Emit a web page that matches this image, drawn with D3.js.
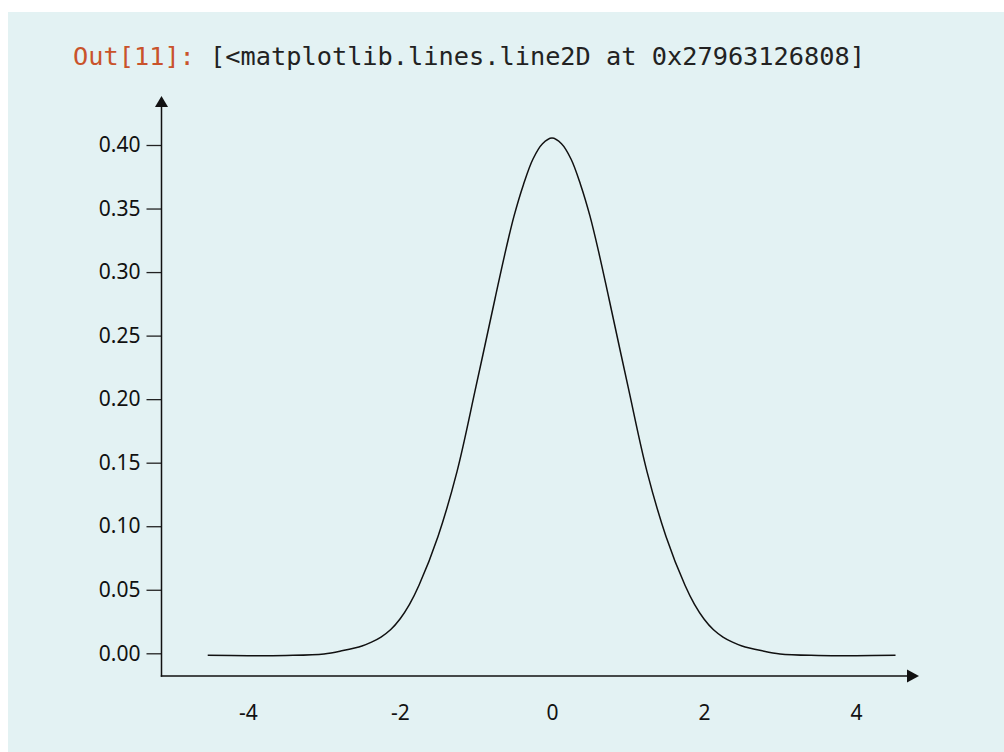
<!DOCTYPE html>
<html>
<head>
<meta charset="utf-8">
<script src="https://cdn.jsdelivr.net/npm/d3@7"></script>
<style>
  html, body { margin: 0; padding: 0; background: #ffffff; }
  svg { display: block; }
</style>
</head>
<body>
<script>
"use strict";

const WIDTH = 1004
const HEIGHT = 752

// curve (tails sit a hair under zero)
const curve_x = [-4.53, -4.0, -3.5, -3.0, -2.75, -2.5, -2.375, -2.25, -2.125, -2.0, -1.875, -1.75, -1.5,
    -1.25, -1.0, -0.75, -0.625, -0.5, -0.375, -0.25, -0.125, 0,
    0.125, 0.25, 0.375, 0.5, 0.625, 0.75, 1.0,
    1.25, 1.5, 1.75, 1.875, 2.0, 2.125, 2.25, 2.375, 2.5, 2.75, 3.0, 3.5, 4.0, 4.52]
const curve_y = [-0.0016, -0.0019, -0.0017, -0.0005, 0.0022, 0.0058, 0.0088, 0.0128, 0.0185, 0.027, 0.0385, 0.0535, 0.092,
    0.143, 0.210, 0.279, 0.313, 0.344, 0.369, 0.389, 0.401, 0.4055,
    0.401, 0.389, 0.369, 0.344, 0.313, 0.279, 0.210,
    0.143, 0.092, 0.0535, 0.0385, 0.027, 0.0185, 0.0128, 0.0088, 0.0058, 0.0022, -0.0005, -0.0017, -0.0019, -0.0016]

const x_ticks = [-4, -2, 0, 2, 4]
const y_ticks = [0.00, 0.05, 0.10, 0.15, 0.20, 0.25, 0.30, 0.35, 0.40]

const out_prompt = "Out[11]:"
const out_text = " [<matplotlib.lines.line2D at 0x27963126808]"

const svg = d3.select("body").append("svg")
    .attr("width", WIDTH)
    .attr("height", HEIGHT)

// light cell background
svg.append("rect")
    .attr("x", 8)
    .attr("y", 12)
    .attr("width", WIDTH - 8)
    .attr("height", HEIGHT - 12)
    .attr("fill", "#e3f2f3")

// the output line above the plot
const out = svg.append("text")
    .attr("x", 73)
    .attr("y", 65)
    .attr("font-family", "'DejaVu Sans Mono', monospace")
    .attr("font-size", 25.3)
out.append("tspan").attr("fill", "#c9532b").text(out_prompt)
out.append("tspan").attr("fill", "#222").attr("xml:space", "preserve").text(out_text)

const x = d3.scaleLinear().domain([-4, 4]).range([248, 856])
const y = d3.scaleLinear().domain([0, 0.4]).range([653.3, 145])

const axis_x0 = 161.5
const axis_y0 = 676

const font = "'Noto Sans', sans-serif"

// y axis ticks + labels
const gy = svg.append("g")
    .attr("transform", `translate(${axis_x0},0)`)
    .call(d3.axisLeft(y).tickValues(y_ticks).tickSize(15).tickPadding(6)
        .tickFormat(d3.format(".2f")))
gy.select(".domain").remove()
gy.selectAll(".tick line").attr("stroke", "#222").attr("stroke-width", 1.3)
gy.selectAll(".tick text")
    .attr("font-family", font)
    .attr("font-size", 21)
    .attr("fill", "#111")

// x axis labels, no tick marks
const gx = svg.append("g")
    .attr("transform", `translate(0,${axis_y0})`)
    .call(d3.axisBottom(x).tickValues(x_ticks).tickSize(0).tickPadding(29)
        .tickFormat(d => String(d)))
gx.select(".domain").remove()
gx.selectAll(".tick text")
    .attr("font-family", font)
    .attr("font-size", 21)
    .attr("fill", "#111")

// axis lines with arrow heads
svg.append("line")
    .attr("x1", axis_x0).attr("x2", axis_x0)
    .attr("y1", axis_y0 + 0.75).attr("y2", 106)
    .attr("stroke", "#111").attr("stroke-width", 1.5)
svg.append("path")
    .attr("d", `M${axis_x0 - 6.5},${107} L${axis_x0 + 6.5},${107} L${axis_x0},${96} Z`)
    .attr("fill", "#111")

svg.append("line")
    .attr("x1", axis_x0 - 0.75).attr("x2", 908)
    .attr("y1", axis_y0).attr("y2", axis_y0)
    .attr("stroke", "#111").attr("stroke-width", 1.5)
svg.append("path")
    .attr("d", `M907,${axis_y0 - 6.5} L907,${axis_y0 + 6.5} L919,${axis_y0} Z`)
    .attr("fill", "#111")

// the curve
const pts = curve_x.map((d, i) => [d, curve_y[i]])
const line = d3.line()
    .x(d => x(d[0]))
    .y(d => y(d[1]))
    .curve(d3.curveCatmullRom.alpha(0.5))

svg.append("path")
    .datum(pts)
    .attr("d", line)
    .attr("fill", "none")
    .attr("stroke", "#111")
    .attr("stroke-width", 1.5)
</script>
</body>
</html>
